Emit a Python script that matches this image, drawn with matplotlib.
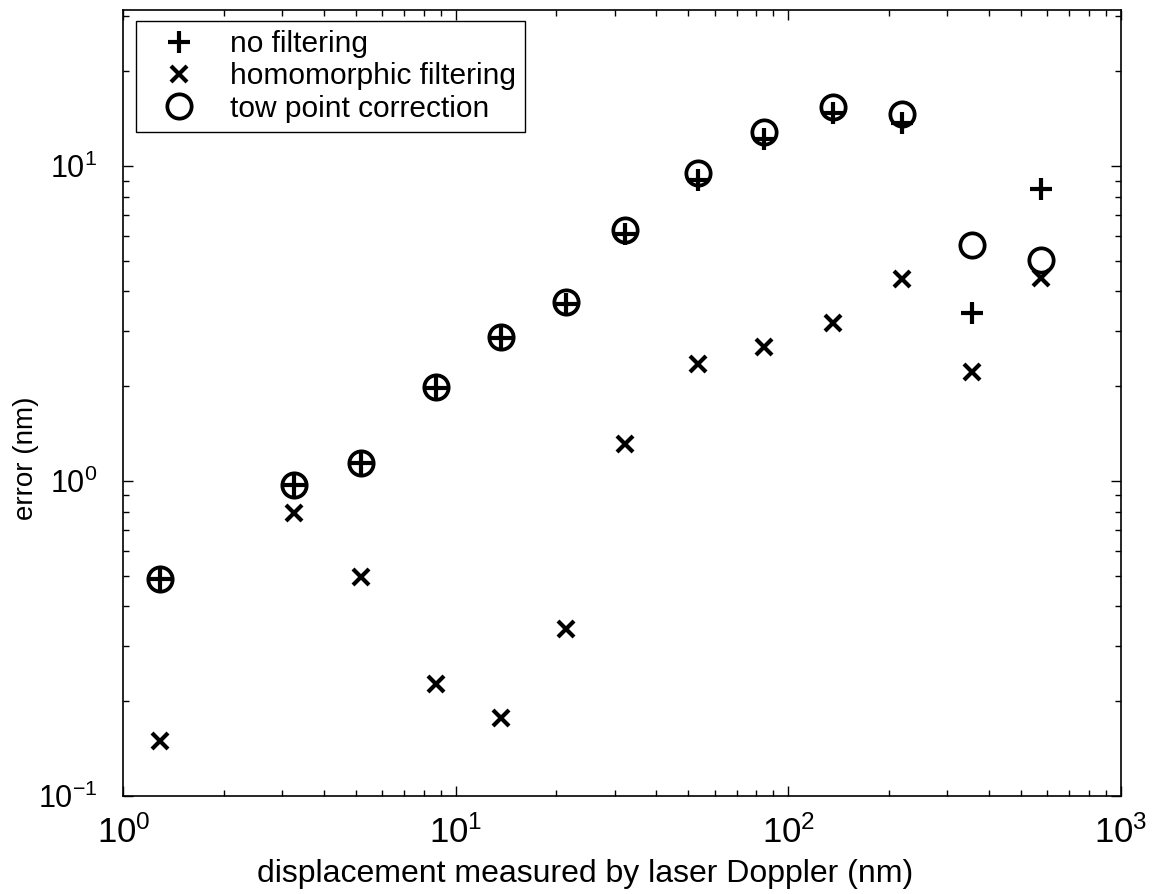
import numpy as np
import matplotlib
matplotlib.use("Agg")
import matplotlib.pyplot as plt

plt.rcParams['font.family'] = ['Liberation Sans', 'DejaVu Sans']

# displacement (nm) measured by laser Doppler
disp = [1.29, 3.26, 5.18, 8.71, 13.7, 21.4, 32.2, 53.4, 84.4, 136, 220, 356, 575]

# error (nm)
no_filter = [0.487, 0.975, 1.14, 1.97, 2.84, 3.66, 6.1, 9.05, 12.2, 14.7, 13.7, 3.42, 8.45]
homomorphic = [0.149, 0.789, 0.495, 0.226, 0.177, 0.338, 1.315, 2.36, 2.67, 3.18, 4.38, 2.22, 4.42]
two_point = [0.487, 0.975, 1.144, 1.99, 2.87, 3.71, 6.29, 9.5, 12.8, 15.4, 14.6, 5.62, 5.04]

fig = plt.figure(figsize=(11.54, 8.94), dpi=100)
ax = fig.add_axes([0.107, 0.1096, 0.8644, 0.8792])

ax.plot(disp, no_filter, linestyle='none', marker='+', ms=16, mew=3.0,
        color='black', label='no filtering')
ax.plot(disp, homomorphic, linestyle='none', marker='x', ms=11, mew=3.0,
        color='black', label='homomorphic filtering')
ax.plot(disp, two_point, linestyle='none', marker='o', ms=17.5, mew=2.7,
        mfc='none', color='black', label='tow point correction')

ax.set_xscale('log')
ax.set_yscale('log')
ax.set_xlim(1, 1000)
ax.set_ylim(0.1, 31.3)

ax.tick_params(which='both', direction='in', top=True, right=True, width=1)
ax.tick_params(which='major', length=7.5)
ax.tick_params(which='minor', length=4.5)
ax.tick_params(axis='x', which='major', labelsize=25, pad=14)
ax.tick_params(axis='y', which='major', labelsize=22, pad=19)
for s in ax.spines.values():
    s.set_linewidth(1.2)

ax.set_xlabel('displacement measured by laser Doppler (nm)', fontsize=23)
ax.xaxis.set_label_coords(0.4627, -0.08)
ax.set_ylabel('error (nm)', fontsize=20)
ax.yaxis.set_label_coords(-0.085, 0.43)

leg = ax.legend(loc='upper left', bbox_to_anchor=(0.0125, 0.986), fontsize=21.5,
                fancybox=False, framealpha=1, edgecolor='black',
                borderaxespad=0, handlelength=2.3, handletextpad=0.55,
                borderpad=0.3, labelspacing=0.15)
leg.get_frame().set_linewidth(1.0)

fig.savefig('out.png', dpi=100)
